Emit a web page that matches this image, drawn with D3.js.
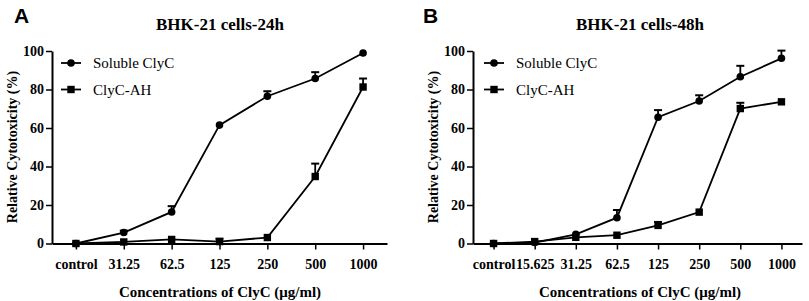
<!DOCTYPE html>
<html>
<head>
<meta charset="utf-8">
<script src="https://cdn.jsdelivr.net/npm/d3@7"></script>
<style>
  body { margin: 0; background: #fff; }
  svg text { font-family: "Liberation Serif", "DejaVu Serif", serif; }
</style>
</head>
<body>
<div id="chart"></div>
<script>
// categories
var catsA = ["control", "31.25", "62.5", "125", "250", "500", "1000"];
var catsB = ["control", "15.625", "31.25", "62.5", "125", "250", "500", "1000"];
var yTicks = [0, 20, 40, 60, 80, 100];

// panel A (24h)
var solA = [0, 5.7, 16.4, 61.5, 76.5, 85.7, 99];
var solAErr = [0, 1, 3, 0, 2.6, 3.3, 0];
var ahA = [0, 0.8, 2.1, 1, 3.1, 34.8, 81.3];
var ahAErr = [0, 0, 0, 1.5, 0, 6.7, 4.4];

// panel B (48h)
var solB = [0, 0.5, 4.8, 13.4, 65.6, 74, 86.6, 96.2];
var solBErr = [0, 0, 0, 4, 3.7, 3, 5.7, 4];
var ahB = [0, 1, 3.2, 4.3, 9.4, 16.3, 70.1, 73.6];
var ahBErr = [0, 0, 0, 0, 1.8, 0, 3, 0];

var serif = "'Liberation Serif', 'DejaVu Serif', serif";

var svg = d3.select("#chart")
  .append("svg")
  .attr("width", 809)
  .attr("height", 301)
  .attr("font-family", serif);

function drawPanel(p) {
  var g = svg.append("g");

  var x = d3.scalePoint()
    .domain(p.cats)
    .range([p.left, p.right])
    .padding(0.5);

  var y = d3.scaleLinear()
    .domain([0, 100])
    .range([243.5, 51]);

  // axes
  var xAxis = g.append("g")
    .attr("transform", "translate(0," + y(0) + ")")
    .call(d3.axisBottom(x).tickSize(6).tickSizeOuter(0))
    .attr("font-family", serif);
  xAxis.select(".domain").attr("stroke-width", 2);
  xAxis.selectAll(".tick line").attr("stroke-width", 1.5);
  xAxis.selectAll(".tick text")
    .attr("dy", "1.2em")
    .attr("font-weight", "bold")
    .attr("font-size", 14)
    .attr("fill", "#000");

  var yAxis = g.append("g")
    .attr("transform", "translate(" + p.left + ",0)")
    .call(d3.axisLeft(y).tickValues(yTicks).tickSize(6).tickSizeOuter(0))
    .attr("font-family", serif);
  yAxis.select(".domain").attr("stroke-width", 2);
  yAxis.selectAll(".tick line").attr("stroke-width", 1.5);
  yAxis.selectAll(".tick text")
    .attr("x", -8)
    .attr("font-weight", "bold")
    .attr("font-size", 14)
    .attr("fill", "#000");

  // titles
  g.append("text")
    .attr("x", p.titleX)
    .attr("y", 30)
    .attr("text-anchor", "middle")
    .attr("font-weight", "bold")
    .attr("font-size", 17)
    .text(p.title);

  g.append("text")
    .attr("x", p.letterX)
    .attr("y", 23)
    .style("font-family", "'Liberation Sans', Arial, sans-serif")
    .attr("font-weight", "bold")
    .attr("font-size", 21)
    .text(p.letter);

  g.append("text")
    .attr("x", p.titleX)
    .attr("y", 297)
    .attr("text-anchor", "middle")
    .attr("font-weight", "bold")
    .attr("font-size", 15)
    .text("Concentrations of ClyC (μg/ml)");

  g.append("text")
    .attr("transform", "translate(" + (p.left - 35) + "," + 147 + ") rotate(-90)")
    .attr("text-anchor", "middle")
    .attr("font-weight", "bold")
    .attr("font-size", 14)
    .text("Relative Cytotoxicity (%)");

  var line = d3.line()
    .x(function (d, i) { return x(p.cats[i]); })
    .y(function (d) { return y(d); });

  var series = [
    { vals: p.sol, err: p.solErr, shape: "circle" },
    { vals: p.ah, err: p.ahErr, shape: "square" }
  ];

  series.forEach(function (s) {
    g.append("path")
      .datum(s.vals)
      .attr("fill", "none")
      .attr("stroke", "#000")
      .attr("stroke-width", 1.8)
      .attr("d", line);

    // upper error bars
    var eb = g.append("g").selectAll("g")
      .data(s.vals.map(function (v, i) { return { v: v, e: s.err[i], c: p.cats[i] }; })
        .filter(function (d) { return d.e > 0; }))
      .enter().append("g");
    eb.append("line")
      .attr("x1", function (d) { return x(d.c); })
      .attr("x2", function (d) { return x(d.c); })
      .attr("y1", function (d) { return y(d.v); })
      .attr("y2", function (d) { return y(d.v + d.e); })
      .attr("stroke", "#000")
      .attr("stroke-width", 1.8);
    eb.append("line")
      .attr("x1", function (d) { return x(d.c) - 4; })
      .attr("x2", function (d) { return x(d.c) + 4; })
      .attr("y1", function (d) { return y(d.v + d.e); })
      .attr("y2", function (d) { return y(d.v + d.e); })
      .attr("stroke", "#000")
      .attr("stroke-width", 2);

    var pts = g.append("g").selectAll(".pt")
      .data(s.vals)
      .enter();
    if (s.shape === "circle") {
      pts.append("circle")
        .attr("cx", function (d, i) { return x(p.cats[i]); })
        .attr("cy", function (d) { return y(d); })
        .attr("r", 3.8)
        .attr("fill", "#000");
    } else {
      pts.append("rect")
        .attr("x", function (d, i) { return x(p.cats[i]) - 3.7; })
        .attr("y", function (d) { return y(d) - 3.7; })
        .attr("width", 7.4)
        .attr("height", 7.4)
        .attr("fill", "#000");
    }
  });

  // legend
  var legend = [
    { name: "Soluble ClyC", shape: "circle", ly: 63 },
    { name: "ClyC-AH", shape: "square", ly: 89.5 }
  ];
  legend.forEach(function (l) {
    var lx = p.left + p.legendOff;
    g.append("line")
      .attr("x1", lx).attr("x2", lx + 20)
      .attr("y1", l.ly).attr("y2", l.ly)
      .attr("stroke", "#000").attr("stroke-width", 1.8);
    if (l.shape === "circle") {
      g.append("circle").attr("cx", lx + 10).attr("cy", l.ly).attr("r", 3.8).attr("fill", "#000");
    } else {
      g.append("rect").attr("x", lx + 6.3).attr("y", l.ly - 3.7)
        .attr("width", 7.4).attr("height", 7.4).attr("fill", "#000");
    }
    g.append("text")
      .attr("x", lx + 32)
      .attr("y", l.ly + 5)
      .attr("font-size", 15)
      .text(l.name);
  });
}

drawPanel({
  cats: catsA, sol: solA, solErr: solAErr, ah: ahA, ahErr: ahAErr,
  left: 52, right: 387, title: "BHK-21 cells-24h", titleX: 220, letter: "A", letterX: 14,
  legendOff: 9
});

drawPanel({
  cats: catsB, sol: solB, solErr: solBErr, ah: ahB, ahErr: ahBErr,
  left: 473, right: 802, title: "BHK-21 cells-48h", titleX: 640, letter: "B", letterX: 423,
  legendOff: 11
});
</script>
</body>
</html>
